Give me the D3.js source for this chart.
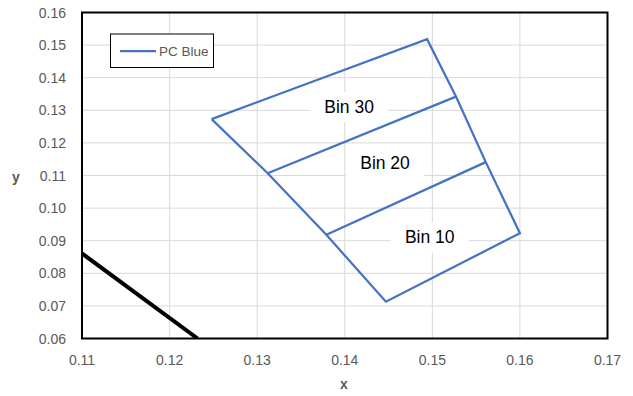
<!DOCTYPE html>
<html><head><meta charset="utf-8">
<script src="https://cdn.jsdelivr.net/npm/d3@7"></script>
<style>body{margin:0;background:#fff}svg{display:block}</style>
</head><body>
<svg id="c" width="633" height="396"></svg>
<script>
// Data
const xTicks = [0.11,0.12,0.13,0.14,0.15,0.16,0.17];
const yTicks = [0.06,0.07,0.08,0.09,0.10,0.11,0.12,0.13,0.14,0.15,0.16];
// PC Blue outline (closed)
const outlineX = [0.1248,0.1494,0.1527,0.1561,0.1600,0.1447,0.1379,0.1312,0.1248];
const outlineY = [0.1273,0.1518,0.1342,0.1141,0.0923,0.0713,0.0918,0.1107,0.1273];
// bin dividers
const div1X = [0.1312,0.1527], div1Y = [0.1107,0.1342];
const div2X = [0.1379,0.1561], div2Y = [0.0918,0.1141];
// black locus line
const locusX = [0.1100,0.1232], locusY = [0.0861,0.0600];
const binLabels = ["Bin 30","Bin 20","Bin 10"];
const binLabelX = [0.1405,0.1446,0.1497];
const binLabelY = [0.1310,0.1138,0.0911];

const svg = d3.select("#c");
const m = {l:82,r:607.5,t:12.5,b:338.5};
const x = d3.scaleLinear().domain([0.11,0.17]).range([m.l,m.r]);
const y = d3.scaleLinear().domain([0.06,0.16]).range([m.b,m.t]);
const grey = "#595959";
const font = "Liberation Sans, Arial, sans-serif";

// gridlines
svg.append("g").selectAll("line").data(xTicks).join("line")
  .attr("x1",d=>x(d)).attr("x2",d=>x(d)).attr("y1",m.t).attr("y2",m.b)
  .attr("stroke","#d9d9d9").attr("stroke-width",1);
svg.append("g").selectAll("line").data(yTicks).join("line")
  .attr("x1",m.l).attr("x2",m.r).attr("y1",d=>y(d)).attr("y2",d=>y(d))
  .attr("stroke","#d9d9d9").attr("stroke-width",1);

// clip
svg.append("clipPath").attr("id","clip").append("rect")
  .attr("x",m.l).attr("y",m.t).attr("width",m.r-m.l).attr("height",m.b-m.t);

const line = d3.line().x(d=>x(d[0])).y(d=>y(d[1]));
const zip = (a,b)=>a.map((v,i)=>[v,b[i]]);
const g = svg.append("g").attr("clip-path","url(#clip)");
g.append("path").attr("d",line(zip(locusX,locusY))).attr("fill","none")
  .attr("stroke","#000").attr("stroke-width",4);
[zip(outlineX,outlineY),zip(div1X,div1Y),zip(div2X,div2Y)].forEach(p=>{
  g.append("path").attr("d",line(p)).attr("fill","none")
   .attr("stroke","#4472C4").attr("stroke-width",2.25).attr("stroke-linejoin","miter");
});

// bin labels with white background
binLabels.forEach((t,i)=>{
  const cx = x(binLabelX[i]), cy = y(binLabelY[i]);
  svg.append("rect").attr("x",cx-39).attr("y",cy-15).attr("width",78).attr("height",30).attr("fill","#fff");
  svg.append("text").attr("x",cx).attr("y",cy+6).attr("text-anchor","middle")
    .attr("font-family",font).attr("font-size",17.5)
    .attr("fill","#000").text(t);
});

// border
svg.append("rect").attr("x",m.l).attr("y",m.t).attr("width",m.r-m.l).attr("height",m.b-m.t)
  .attr("fill","none").attr("stroke","#000").attr("stroke-width",2);

// tick labels
svg.append("g").selectAll("text").data(yTicks).join("text")
  .attr("x",66).attr("y",d=>y(d)+5).attr("text-anchor","end")
  .attr("font-family",font).attr("font-size",14)
  .attr("fill",grey).text(d=>d3.format(".2f")(d));
svg.append("g").selectAll("text").data(xTicks).join("text")
  .attr("x",d=>x(d)).attr("y",365).attr("text-anchor","middle")
  .attr("font-family",font).attr("font-size",14)
  .attr("fill",grey).text(d=>d3.format(".2f")(d));

// axis titles
svg.append("text").attr("x",16).attr("y",182).attr("text-anchor","middle")
  .attr("font-family",font).attr("font-size",14).attr("font-weight","bold")
  .attr("fill",grey).text("y");
svg.append("text").attr("x",344).attr("y",389).attr("text-anchor","middle")
  .attr("font-family",font).attr("font-size",14).attr("font-weight","bold")
  .attr("fill",grey).text("x");

// legend
const lg = svg.append("g");
lg.append("rect").attr("x",110.5).attr("y",34).attr("width",103).attr("height",33.5)
  .attr("fill","#fff").attr("stroke","#000").attr("stroke-width",1);
lg.append("line").attr("x1",120).attr("x2",156).attr("y1",51).attr("y2",51)
  .attr("stroke","#4472C4").attr("stroke-width",2.25);
lg.append("text").attr("x",159).attr("y",55.5)
  .attr("font-family",font).attr("font-size",13.5)
  .attr("fill",grey).text("PC Blue");
</script>
</body></html>
